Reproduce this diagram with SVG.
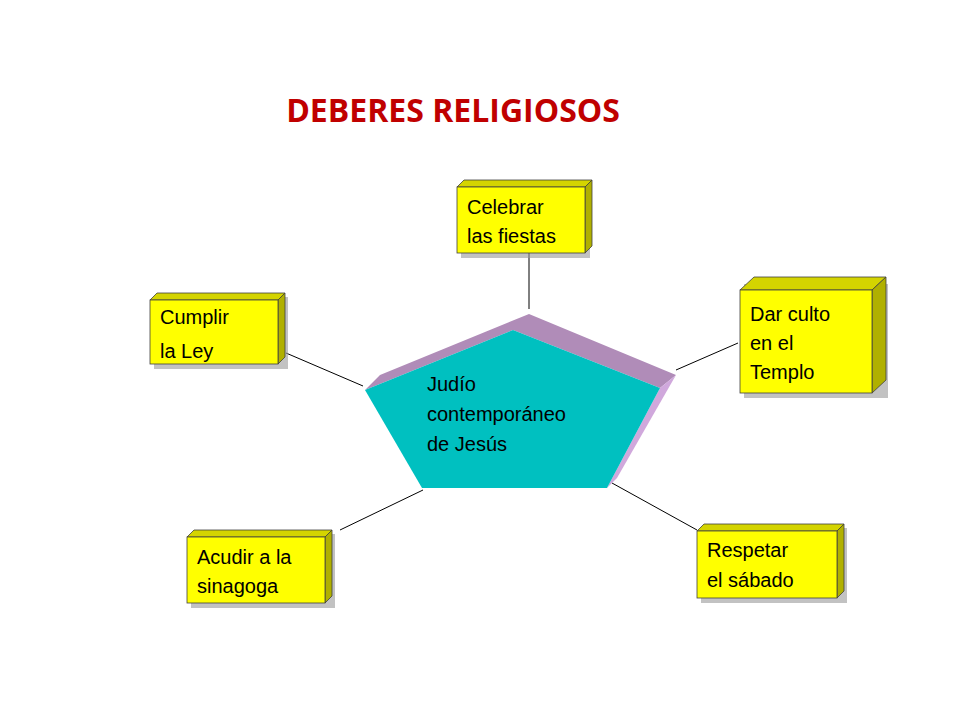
<svg xmlns="http://www.w3.org/2000/svg" width="960" height="720" viewBox="0 0 960 720">
<style>
.f{fill:#ffff00;stroke:#404040;stroke-width:0.8}
.t{fill:#d4d400;stroke:#404040;stroke-width:0.8}
.s{fill:#b0b000;stroke:#404040;stroke-width:0.8}
.sh{fill:#999;opacity:0.6}
.l{font-family:"Liberation Sans",Arial,sans-serif;font-size:20px;fill:#000}
.c{stroke:#000;stroke-width:1;fill:none}
</style>
<rect width="960" height="720" fill="#fff"/>
<text x="453" y="122" text-anchor="middle" font-family="'Open Sans',sans-serif" font-weight="bold" font-size="32" fill="#c00000">DEBERES RELIGIOSOS</text>
<g id="connectors">
<line class="c" x1="529" y1="253" x2="529" y2="309"/>
<line class="c" x1="286" y1="353" x2="363" y2="386"/>
<line class="c" x1="676" y1="370" x2="738" y2="343"/>
<line class="c" x1="340" y1="530" x2="423" y2="490"/>
<line class="c" x1="612" y1="483" x2="697" y2="530"/>
</g>
<g id="center">
<polygon points="365,390 380,375 529,314 676,375 660,388 513,330" fill="#b08cb8"/>
<polygon points="660,388 676,375 617,478 607,488" fill="#d0a8dc"/>
<polygon points="513,330 365,390 422,488 607,488 660,388" fill="#00c0c0"/>
<text class="l" x="427" y="391">Judío</text>
<text class="l" x="427" y="421">contemporáneo</text>
<text class="l" x="427" y="451">de Jesús</text>
</g>
<g id="n1">
<rect class="sh" x="461" y="184" width="129" height="74"/>
<polygon class="t" points="457,187 464,180 592,180 585,187"/>
<polygon class="s" points="585,187 592,180 592,246 585,253"/>
<rect class="f" x="457" y="187" width="128" height="66"/>
<text class="l" x="467" y="214">Celebrar</text>
<text class="l" x="467" y="243">las fiestas</text>
</g>
<g id="n2">
<rect class="sh" x="154" y="297" width="134" height="72"/>
<polygon class="t" points="150,300 157,293 285,293 278,300"/>
<polygon class="s" points="278,300 285,293 285,357 278,364"/>
<rect class="f" x="150" y="300" width="128" height="64"/>
<text class="l" x="160" y="324">Cumplir</text>
<text class="l" x="160" y="358">la Ley</text>
</g>
<g id="n3">
<rect class="sh" x="744" y="284" width="144" height="114"/>
<polygon class="t" points="740,290 754,277 886,277 872,290"/>
<polygon class="s" points="872,290 886,277 886,380 872,393"/>
<rect class="f" x="740" y="290" width="132" height="103"/>
<text class="l" x="750" y="321">Dar culto</text>
<text class="l" x="750" y="350">en el</text>
<text class="l" x="750" y="379">Templo</text>
</g>
<g id="n4">
<rect class="sh" x="191" y="534" width="144" height="74"/>
<polygon class="t" points="187,537 194,530 332,530 325,537"/>
<polygon class="s" points="325,537 332,530 332,596 325,603"/>
<rect class="f" x="187" y="537" width="138" height="66"/>
<text class="l" x="197" y="564">Acudir a la</text>
<text class="l" x="197" y="593">sinagoga</text>
</g>
<g id="n5">
<rect class="sh" x="701" y="528" width="146" height="75"/>
<polygon class="t" points="697,531 704,524 844,524 837,531"/>
<polygon class="s" points="837,531 844,524 844,591 837,598"/>
<rect class="f" x="697" y="531" width="140" height="67"/>
<text class="l" x="707" y="557">Respetar</text>
<text class="l" x="707" y="587">el sábado</text>
</g>
</svg>
